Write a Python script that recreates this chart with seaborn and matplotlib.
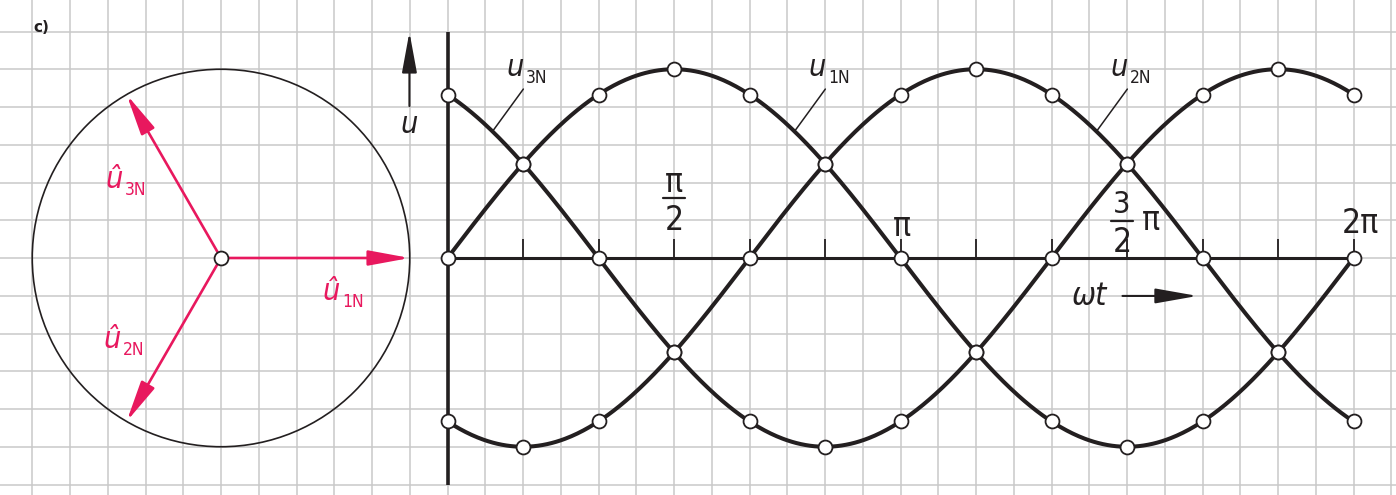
import numpy as np
import pandas as pd
import matplotlib
matplotlib.use("Agg")
import matplotlib.pyplot as plt
import seaborn as sns
from matplotlib.patches import Circle, FancyArrowPatch
from matplotlib.ticker import MultipleLocator

# ---------------------------------------------------------------- data
phase_names = ["1N", "2N", "3N"]          # u1N, u2N, u3N
phase_shift_deg = [0, -120, 120]          # phase angle of each voltage
amplitude = 1.0                           # peak value û
points_per_period = 12                    # marked construction points (every 30°)
tick_fracs = [(1, 2), (1, 1), (3, 2), (2, 1)]   # labelled multiples of π

# ---------------------------------------------------------------- style
sns.set_theme(style="white")
plt.rcParams["font.family"] = ["DejaVu Sans"]
plt.rcParams["font.stretch"] = "condensed"

INK = "#231f20"
PINK = "#e8185e"
GRID = "#c9c9c9"

W, H = 1396, 495
fig = plt.figure(figsize=(W / 100, H / 100), dpi=100)

cell_px = 37.75                      # grid spacing in pixels
unit_px = cell_px / 0.2              # one amplitude unit = 5 grid cells
rad_px = cell_px / (np.pi / 12)      # one grid cell = π/12
phasor_centre = (221.0, 258.0)
wave_origin = (447.5, 258.0)

ylim = (-(H - phasor_centre[1]) / unit_px, phasor_centre[1] / unit_px)

# ---------------------------------------------------------------- phasor axes (with grid paper)
axp = fig.add_axes([0, 0, 1, 1])
axp.set_xlim(-phasor_centre[0] / unit_px, (W - phasor_centre[0]) / unit_px)
axp.set_ylim(*ylim)
axp.xaxis.set_major_locator(MultipleLocator(0.2))
axp.yaxis.set_major_locator(MultipleLocator(0.2))
axp.grid(True, color=GRID, lw=1.1)
axp.set_axisbelow(True)
axp.tick_params(length=0, labelbottom=False, labelleft=False)
for s in axp.spines.values():
    s.set_visible(False)
axp.set_facecolor("white")

axp.add_patch(Circle((0, 0), amplitude, fill=False, ec=INK, lw=1.2, zorder=2))
for name, ph in zip(phase_names, phase_shift_deg):
    a = np.deg2rad(ph)
    tip = (amplitude * np.cos(a), amplitude * np.sin(a))
    axp.add_patch(FancyArrowPatch((0, 0), tip,
                                  arrowstyle="-|>,head_length=25,head_width=4.6",
                                  mutation_scale=1, color=PINK, lw=1.9,
                                  shrinkA=0, shrinkB=0, zorder=3))
sns.scatterplot(x=[0.0], y=[0.0], ax=axp, s=100, color="white",
                edgecolor=INK, linewidth=1.3, zorder=5, legend=False)


def voltage_label(ax, x, y, sub, color, main="u", size=22, subsize=12.5):
    ax.text(x, y, main, ha="right", va="baseline", fontsize=size,
            style="italic", color=color, zorder=6)
    ax.annotate(sub, (x, y), xytext=(1.5, -5), textcoords="offset points",
                ha="left", va="baseline", fontsize=subsize, color=color, zorder=6)


hat_label_pos = {"1N": (0.630, -0.223), "2N": (-0.530, -0.477), "3N": (-0.519, 0.371)}
for name in phase_names:
    voltage_label(axp, *hat_label_pos[name], name, PINK, main="û")

# ---------------------------------------------------------------- waveform axes
axw = fig.add_axes([0, 0, 1, 1])
axw.set_xlim(-wave_origin[0] / rad_px, (W - wave_origin[0]) / rad_px)
axw.set_ylim(*ylim)
axw.axis("off")
axw.patch.set_alpha(0)

wt = np.linspace(0, 2 * np.pi, 601)
curves = pd.concat([
    pd.DataFrame({"wt": wt, "u": amplitude * np.sin(wt + np.deg2rad(ph)), "phase": name})
    for name, ph in zip(phase_names, phase_shift_deg)
])
wt_pts = np.arange(points_per_period + 1) * 2 * np.pi / points_per_period
points = pd.concat([
    pd.DataFrame({"wt": wt_pts, "u": amplitude * np.sin(wt_pts + np.deg2rad(ph)), "phase": name})
    for name, ph in zip(phase_names, phase_shift_deg)
])

# axes of the diagram
axis_reach = 1.2
axw.plot([0, 0], [-axis_reach, axis_reach], color=INK, lw=2.6, zorder=2,
         solid_capstyle="butt")
axw.plot([0, 2 * np.pi], [0, 0], color=INK, lw=2.2, zorder=2, solid_capstyle="butt")
axw.vlines(wt_pts[1:], 0, 0.1, color=INK, lw=1.3, zorder=2)

sns.lineplot(data=curves, x="wt", y="u", hue="phase", estimator=None, sort=False,
             palette={n: INK for n in phase_names}, lw=2.9, ax=axw,
             legend=False, zorder=3)
sns.scatterplot(data=points, x="wt", y="u", ax=axw, s=100, color="white",
                edgecolor=INK, linewidth=1.3, zorder=5, legend=False)
axw.set_xlabel("")
axw.set_ylabel("")

# curve names with leader lines, each placed on the falling slope after the peak
label_base = 0.531                      # label position of u3N (phase +120°)
for name, ph in zip(phase_names, phase_shift_deg):
    t_lab = label_base + np.deg2rad(120 - ph)
    t_end = t_lab - 0.219
    axw.plot([t_lab - 0.005, t_end], [0.895, amplitude * np.sin(t_end + np.deg2rad(ph))],
             color=INK, lw=1.1, zorder=4)
    voltage_label(axw, t_lab, 0.964, name, INK)

# tick labels in multiples of π
for num, den in tick_fracs:
    x = np.pi * num / den
    if num == 1 and den == 2:
        axw.text(x, 0.35, "π", ha="center", va="baseline", fontsize=24, color=INK)
        axw.plot([x - 0.075, x + 0.075], [0.318, 0.318], color=INK, lw=1.6)
        axw.text(x, 0.148, "2", ha="center", va="baseline", fontsize=24, color=INK)
    elif den == 2:
        xf = x - 0.034
        axw.text(xf, 0.238, str(num), ha="center", va="baseline", fontsize=22, color=INK)
        axw.plot([xf - 0.075, xf + 0.075], [0.196, 0.196], color=INK, lw=1.6)
        axw.text(xf, 0.032, "2", ha="center", va="baseline", fontsize=24, color=INK)
        axw.text(x + 0.167, 0.148, "π", ha="center", va="baseline", fontsize=24, color=INK)
    elif num == 1:
        axw.text(x + 0.01, 0.117, "π", ha="center", va="baseline", fontsize=24, color=INK)
    else:
        axw.text(x + 0.045, 0.132, f"{num}π", ha="center", va="baseline", fontsize=24,
                 color=INK)

# quantity arrows
axw.add_patch(FancyArrowPatch((-0.264, 0.805), (-0.264, 1.197),
                              arrowstyle="-|>,head_length=25,head_width=4.6",
                              mutation_scale=1, color=INK, lw=1.5,
                              shrinkA=0, shrinkB=0, zorder=4))
axw.text(-0.264, 0.662, "u", ha="center", va="baseline", fontsize=22,
         style="italic", color=INK)
axw.add_patch(FancyArrowPatch((4.681, -0.201), (5.201, -0.201),
                              arrowstyle="-|>,head_length=26,head_width=4.6",
                              mutation_scale=1, color=INK, lw=1.5,
                              shrinkA=0, shrinkB=0, zorder=4))
axw.text(4.449, -0.249, "ωt", ha="center", va="baseline", fontsize=23,
         style="italic", color=INK)

fig.text(33 / W, 1 - 32 / H, "c)", fontsize=11, fontweight="bold",
         ha="left", va="baseline", color=INK, family="DejaVu Sans", stretch="normal")

fig.savefig("out.png", dpi=100)
